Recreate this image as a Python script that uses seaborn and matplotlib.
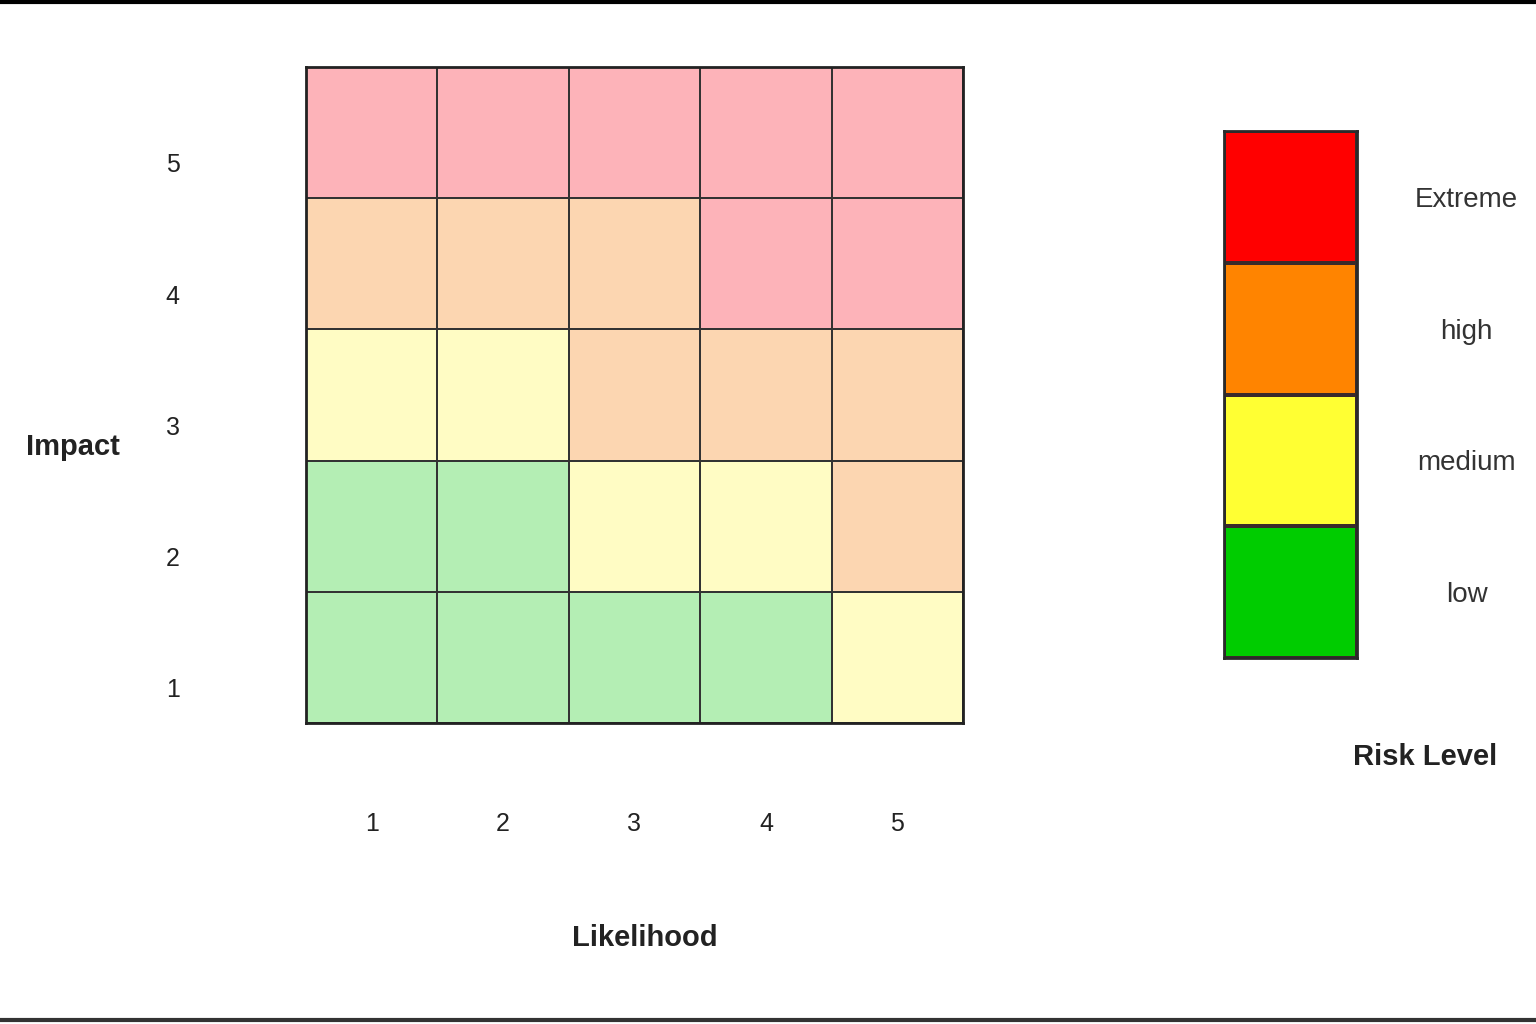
import matplotlib
matplotlib.use("Agg")
import matplotlib.pyplot as plt
import seaborn as sns
import numpy as np
import pandas as pd
from matplotlib.colors import ListedColormap
from matplotlib.lines import Line2D

# ---- data ----
likelihood = ["1", "2", "3", "4", "5"]
impact = ["5", "4", "3", "2", "1"]  # top to bottom
# risk level codes: 0 low, 1 medium, 2 high, 3 extreme
row_impact5 = [3, 3, 3, 3, 3]
row_impact4 = [2, 2, 2, 3, 3]
row_impact3 = [1, 1, 2, 2, 2]
row_impact2 = [0, 0, 1, 1, 2]
row_impact1 = [0, 0, 0, 0, 1]
levels = ["Extreme", "high", "medium", "low"]
level_codes = [3, 2, 1, 0]
cell_colors = ["#B4EEB4", "#FFFCC4", "#FCD6B1", "#FDB3B9"]   # low..extreme (pastel)
legend_colors = ["#00CC00", "#FFFF33", "#FF8400", "#FF0000"]  # low..extreme

sns.set_theme(style="white")
plt.rcParams['font.family'] = ['Liberation Sans', 'DejaVu Sans']

fig = plt.figure(figsize=(15.36, 10.24), dpi=100)
fig.patch.set_facecolor("white")

W, H = 1536, 1024
def ax_rect(x0, y0, x1, y1):
    return [x0 / W, 1 - y1 / H, (x1 - x0) / W, (y1 - y0) / H]

# main matrix
ax = fig.add_axes(ax_rect(306, 67, 963, 723))
df = pd.DataFrame([row_impact5, row_impact4, row_impact3, row_impact2, row_impact1],
                  index=impact, columns=likelihood)
sns.heatmap(df, ax=ax, cmap=ListedColormap(cell_colors), vmin=-0.5, vmax=3.5,
            cbar=False, linewidths=1.4, linecolor="#333333", square=False)
for s in ax.spines.values():
    s.set_visible(True)
    s.set_color("#222222")
    s.set_linewidth(2.0)
ax.set_xlabel("")
ax.set_ylabel("")
# y tick labels sit slightly below each row centre in the reference
ax.set_yticks(np.arange(len(impact)) + 0.75, impact)
ax.tick_params(axis="x", length=0, pad=64, labelsize=18, labelcolor="#222222", labelrotation=0)
ax.tick_params(axis="y", length=0, pad=96, labelsize=18, labelcolor="#222222", labelrotation=0)
for t in ax.get_yticklabels():
    t.set_ha("center")

fig.text(73 / W, 1 - 447 / H, "Impact", ha="center", va="center",
         fontsize=21, fontweight="bold", color="#222222")
fig.text(645 / W, 1 - 938 / H, "Likelihood", ha="center", va="center",
         fontsize=21, fontweight="bold", color="#222222")

# legend
lax = fig.add_axes(ax_rect(1224, 131, 1357, 658))
ldf = pd.DataFrame({"level": level_codes}, index=levels)
sns.heatmap(ldf, ax=lax, cmap=ListedColormap(legend_colors), vmin=-0.5, vmax=3.5,
            cbar=False, linewidths=1.5, linecolor="#3a2a2a")
for s in lax.spines.values():
    s.set_visible(True)
    s.set_color("#2a2a2a")
    s.set_linewidth(2.0)
lax.set_xticks([])
lax.set_ylabel("")
lax.yaxis.tick_right()
lax.tick_params(axis="y", length=0, pad=79, labelsize=20, labelcolor="#333333",
                labelrotation=0, right=False, left=False)
for t in lax.get_yticklabels():
    t.set_ha("center")

fig.text(1425 / W, 1 - 757 / H, "Risk Level", ha="center", va="center",
         fontsize=21, fontweight="bold", color="#222222")

# frame lines top & bottom
fig.add_artist(Line2D([0, 1], [1 - 1.5 / H, 1 - 1.5 / H], color="black", lw=3,
                      transform=fig.transFigure))
fig.add_artist(Line2D([0, 1], [1 - 1020 / H, 1 - 1020 / H], color="#333333", lw=3,
                      transform=fig.transFigure))

fig.savefig("out.png", dpi=100, facecolor="white")
